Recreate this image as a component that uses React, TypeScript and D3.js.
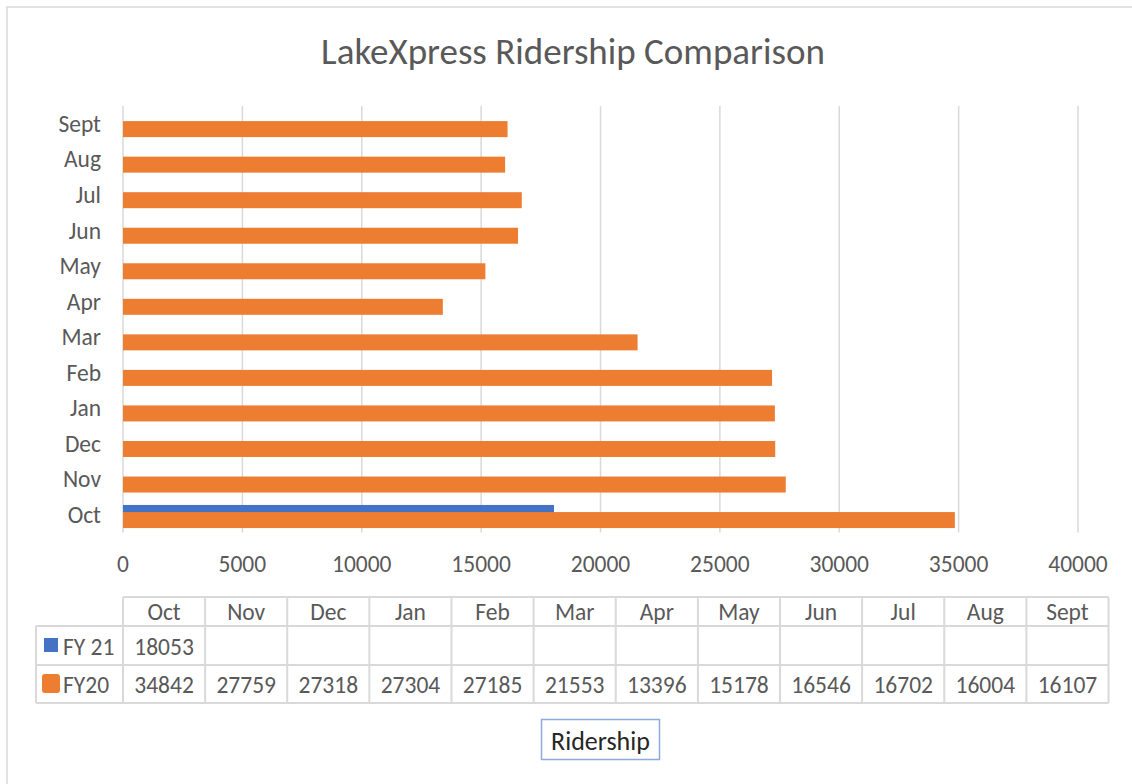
import * as d3 from "d3";

const months = ["Oct", "Nov", "Dec", "Jan", "Feb", "Mar", "Apr", "May", "Jun", "Jul", "Aug", "Sept"];
const fy21: (number | null)[] = [18053, null, null, null, null, null, null, null, null, null, null, null];
const fy20 = [34842, 27759, 27318, 27304, 27185, 21553, 13396, 15178, 16546, 16702, 16004, 16107];
const xTicks = [0, 5000, 10000, 15000, 20000, 25000, 30000, 35000, 40000];
const seriesNames = ["FY 21", "FY20"];

const W = 1132;
const H = 784;
const BLUE = "#4472C4";
const ORANGE = "#ED7D31";
const GRID = "#d9d9d9";
const TXT = "#595959";
const FONT = "Carlito, Calibri, 'Open Sans', sans-serif";
const FS = 23.5;
const DY = 2.5; // nudge for middle baseline

export default function App() {
  const plot = { left: 123, right: 1078, top: 106, bottom: 532.5 };

  const x = d3.scaleLinear().domain([0, 40000]).range([plot.left, plot.right]);
  const y = d3.scaleBand<string>()
    .domain([...months].reverse())
    .range([plot.top, plot.bottom]);
  const bw = y.bandwidth();
  const barH = bw * 0.45;
  const off21 = bw * 0.225;
  const off20 = bw * 0.425;

  // table layout
  const tLeft = plot.left;
  const tRight = 1108.5;
  const col = d3.scaleBand<string>().domain(months).range([tLeft, tRight]);
  const rowHeadLeft = 36;
  const rows = [597, 626, 665, 703];

  return (
    <div style={{ position: "absolute", left: 0, top: 0 }}>
      <svg width={W} height={H} style={{ display: "block", fontFamily: FONT }}>
        <rect x={0} y={0} width={W} height={H} fill="#fff" />
        <rect x={7} y={7} width={W + 20} height={H + 20} fill="#fff" stroke={GRID} strokeWidth={1.5} />

        <text x={573} y={64} textAnchor="middle" fontSize={37} fill={TXT}>
          LakeXpress Ridership Comparison
        </text>

        {/* gridlines */}
        {xTicks.map((t) => (
          <line key={t} x1={x(t)} x2={x(t)} y1={plot.top} y2={plot.bottom} stroke={GRID} strokeWidth={1.5} />
        ))}

        {/* bars */}
        {months.map((m, i) => {
          const v = fy21[i];
          return v == null ? null : (
            <rect key={"a" + m} x={x(0)} y={(y(m) as number) + off21} width={x(v) - x(0)} height={barH} fill={BLUE} />
          );
        })}
        {months.map((m, i) => (
          <rect key={"b" + m} x={x(0)} y={(y(m) as number) + off20} width={x(fy20[i]) - x(0)} height={barH} fill={ORANGE} />
        ))}

        {/* category labels */}
        {months.map((m) => (
          <text key={"l" + m} x={101} y={(y(m) as number) + bw / 2 + DY} textAnchor="end" dominantBaseline="middle" fontSize={FS} fill={TXT}>
            {m}
          </text>
        ))}

        {/* x tick labels */}
        {xTicks.map((t) => (
          <text key={"t" + t} x={x(t)} y={564 + DY} textAnchor="middle" dominantBaseline="middle" fontSize={FS} fill={TXT}>
            {t}
          </text>
        ))}

        {/* data table */}
        <g stroke={GRID} strokeWidth={2} fill="none">
          <line x1={tLeft} x2={tRight} y1={rows[0]} y2={rows[0]} />
          <line x1={rowHeadLeft} x2={tRight} y1={rows[1]} y2={rows[1]} />
          <line x1={rowHeadLeft} x2={tRight} y1={rows[2]} y2={rows[2]} />
          <line x1={rowHeadLeft} x2={tRight} y1={rows[3]} y2={rows[3]} />
          <line x1={rowHeadLeft} x2={rowHeadLeft} y1={rows[1]} y2={rows[3]} />
          {months.map((m) => (
            <line key={"v" + m} x1={col(m)} x2={col(m)} y1={rows[0]} y2={rows[3]} />
          ))}
          <line x1={tRight} x2={tRight} y1={rows[0]} y2={rows[3]} />
        </g>
        {months.map((m) => (
          <text key={"h" + m} x={(col(m) as number) + col.bandwidth() / 2} y={(rows[0] + rows[1]) / 2 + DY} textAnchor="middle" dominantBaseline="middle" fontSize={FS} fill={TXT}>
            {m}
          </text>
        ))}
        {months.map((m, i) => {
          const v = fy21[i];
          return v == null ? null : (
            <text key={"r1" + m} x={(col(m) as number) + col.bandwidth() / 2} y={(rows[1] + rows[2]) / 2 + 1 + DY} textAnchor="middle" dominantBaseline="middle" fontSize={FS} fill={TXT}>
              {v}
            </text>
          );
        })}
        {months.map((m, i) => (
          <text key={"r2" + m} x={(col(m) as number) + col.bandwidth() / 2} y={(rows[2] + rows[3]) / 2 + 1 + DY} textAnchor="middle" dominantBaseline="middle" fontSize={FS} fill={TXT}>
            {fy20[i]}
          </text>
        ))}

        {/* legend keys in row headers */}
        <rect x={44} y={638} width={14} height={14} fill={BLUE} />
        <text x={63} y={(rows[1] + rows[2]) / 2 + 1 + DY} dominantBaseline="middle" fontSize={FS} fill={TXT}>
          {seriesNames[0]}
        </text>
        <rect x={42} y={674} width={18} height={19} rx={3} fill={ORANGE} />
        <text x={63} y={(rows[2] + rows[3]) / 2 + 1 + DY} dominantBaseline="middle" fontSize={FS} fill={TXT}>
          {seriesNames[1]}
        </text>

        {/* axis title */}
        <rect x={541.5} y={719.5} width={118} height={40} fill="#fff" stroke="#8FAADC" strokeWidth={1.5} />
        <text x={600.5} y={741 + 3} textAnchor="middle" dominantBaseline="middle" fontSize={26} fill="#262626">
          Ridership
        </text>
      </svg>
    </div>
  );
}
